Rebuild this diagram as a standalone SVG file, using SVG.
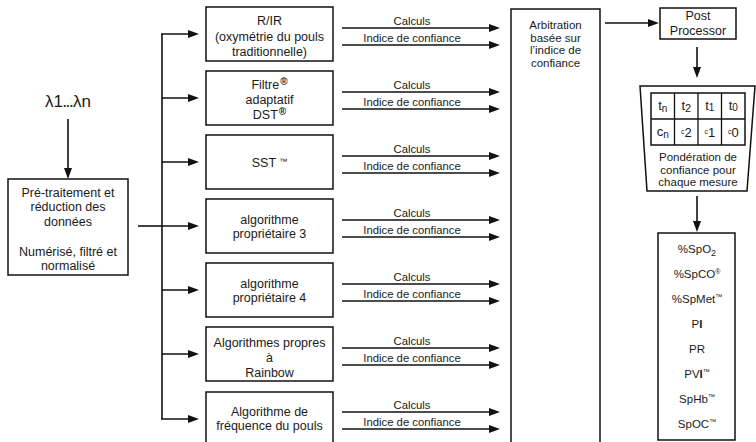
<svg xmlns="http://www.w3.org/2000/svg" width="756" height="442" viewBox="0 0 756 442">
<style>
text{font-family:"Liberation Sans",Arial,sans-serif;fill:#1a1a1a;text-anchor:middle}
.box{fill:#fff;stroke:#111;stroke-width:1.5}
.ln{fill:none;stroke:#111;stroke-width:1.6}
.arr{fill:none;stroke:#111;stroke-width:1.6;marker-end:url(#ah)}
.t12{font-size:12.5px}
.t11{font-size:11.3px}
.t115{font-size:11.5px}
</style>
<defs>
<marker id="ah" markerUnits="userSpaceOnUse" markerWidth="12" markerHeight="9" refX="8" refY="4" orient="auto">
<path d="M0,0 L11,4 L0,8 z" fill="#111"/>
</marker>
</defs>
<rect width="756" height="442" fill="#fff"/>

<g id="connectors">
<line class="arr" x1="68" y1="119" x2="68" y2="176"/>
<line class="ln" x1="138" y1="226" x2="162" y2="226"/>
<line class="ln" x1="162" y1="34" x2="162" y2="419"/>
<line class="arr" x1="161" y1="34" x2="196" y2="34"/>
<line class="arr" x1="162" y1="98" x2="196" y2="98"/>
<line class="arr" x1="162" y1="162" x2="196" y2="162"/>
<line class="arr" x1="162" y1="226" x2="196" y2="226"/>
<line class="arr" x1="162" y1="290" x2="196" y2="290"/>
<line class="arr" x1="162" y1="354" x2="196" y2="354"/>
<line class="arr" x1="161" y1="419" x2="196" y2="419"/>
<g>
<line class="arr" x1="342" y1="28" x2="497" y2="28"/><line class="arr" x1="342" y1="45" x2="497" y2="45"/>
<line class="arr" x1="342" y1="92" x2="497" y2="92"/><line class="arr" x1="342" y1="109" x2="497" y2="109"/>
<line class="arr" x1="342" y1="156" x2="497" y2="156"/><line class="arr" x1="342" y1="173" x2="497" y2="173"/>
<line class="arr" x1="342" y1="220" x2="497" y2="220"/><line class="arr" x1="342" y1="237" x2="497" y2="237"/>
<line class="arr" x1="342" y1="284" x2="497" y2="284"/><line class="arr" x1="342" y1="301" x2="497" y2="301"/>
<line class="arr" x1="342" y1="348" x2="497" y2="348"/><line class="arr" x1="342" y1="365" x2="497" y2="365"/>
<line class="arr" x1="342" y1="412" x2="497" y2="412"/><line class="arr" x1="342" y1="429" x2="497" y2="429"/>
</g>
<g class="t11">
<text x="412" y="25">Calculs</text><text x="412" y="42">Indice de confiance</text>
<text x="412" y="89">Calculs</text><text x="412" y="106">Indice de confiance</text>
<text x="412" y="153">Calculs</text><text x="412" y="170">Indice de confiance</text>
<text x="412" y="217">Calculs</text><text x="412" y="234">Indice de confiance</text>
<text x="412" y="281">Calculs</text><text x="412" y="298">Indice de confiance</text>
<text x="412" y="345">Calculs</text><text x="412" y="362">Indice de confiance</text>
<text x="412" y="409">Calculs</text><text x="412" y="426">Indice de confiance</text>
</g>
<line class="arr" x1="605" y1="23" x2="656" y2="23"/>
<line class="arr" x1="697" y1="47" x2="697" y2="75"/>
<line class="arr" x1="697" y1="196" x2="697" y2="229"/>
</g>

<g id="lambda"><text x="68" y="107" style="font-size:17px">λ1<tspan style="font-size:12px;font-weight:bold">...</tspan>λn</text></g>

<g id="pretraitement">
<rect class="box" x="8" y="179" width="120" height="96"/>
<text class="t12" x="68" y="196.5">Pré-traitement et</text>
<text class="t12" x="68" y="211">réduction des</text>
<text class="t12" x="68" y="225.5">données</text>
<text class="t12" x="68" y="255.5">Numérisé, filtré et</text>
<text class="t12" x="68" y="270">normalisé</text>
</g>

<g id="rir">
<rect class="box" x="206" y="7" width="127" height="54"/>
<text class="t12" x="269.5" y="25">R/IR</text>
<text class="t12" x="269.5" y="40.5">(oxymétrie du pouls</text>
<text class="t12" x="269.5" y="56">traditionnelle)</text>
</g>
<g id="filtre">
<rect class="box" x="206" y="71" width="127" height="54"/>
<text class="t12" x="269.5" y="89">Filtre<tspan dx="1" dy="-4" style="font-size:10px;font-weight:bold">®</tspan></text>
<text class="t12" x="269.5" y="104">adaptatif</text>
<text class="t12" x="269.5" y="119">DST<tspan dx="1" dy="-4" style="font-size:10px;font-weight:bold">®</tspan></text>
</g>
<g id="sst">
<rect class="box" x="206" y="135" width="127" height="54"/>
<text class="t12" x="269.5" y="166.5">SST <tspan dy="-3" style="font-size:8px">™</tspan></text>
</g>
<g id="algo3">
<rect class="box" x="206" y="199" width="127" height="54"/>
<text class="t12" x="269.5" y="223.5">algorithme</text>
<text class="t12" x="269.5" y="237.5">propriétaire 3</text>
</g>
<g id="algo4">
<rect class="box" x="206" y="263" width="127" height="54"/>
<text class="t12" x="269.5" y="288">algorithme</text>
<text class="t12" x="269.5" y="302">propriétaire 4</text>
</g>
<g id="rainbow">
<rect class="box" x="206" y="327" width="127" height="54"/>
<text class="t12" x="269.5" y="347">Algorithmes propres</text>
<text class="t12" x="269.5" y="362">à</text>
<text class="t12" x="269.5" y="377">Rainbow</text>
</g>
<g id="frequence">
<rect class="box" x="206" y="392" width="127" height="60"/>
<text class="t12" x="269.5" y="415.5">Algorithme de</text>
<text class="t12" x="269.5" y="429.5">fréquence du pouls</text>
</g>

<g id="arbitration">
<rect class="box" x="511" y="9" width="89" height="452"/>
<text class="t115" x="555.5" y="29">Arbitration</text>
<text class="t115" x="555.5" y="41.5">basée sur</text>
<text class="t115" x="555.5" y="54">l’indice de</text>
<text class="t115" x="555.5" y="66.5">confiance</text>
</g>

<g id="postprocessor">
<rect class="box" x="660" y="8" width="76" height="31"/>
<text x="698" y="20" style="font-size:12.5px">Post</text>
<text x="698" y="35" style="font-size:12.5px">Processor</text>
</g>

<g id="ponderation">
<path class="box" d="M640,86 L755,86 L747,191 L647,191 z"/>
<rect class="box" x="651" y="93" width="94" height="52"/>
<line class="ln" x1="651" y1="119" x2="745" y2="119" style="stroke-width:1.3"/>
<line class="ln" x1="674.5" y1="93" x2="674.5" y2="145" style="stroke-width:1.3"/>
<line class="ln" x1="698" y1="93" x2="698" y2="145" style="stroke-width:1.3"/>
<line class="ln" x1="721.5" y1="93" x2="721.5" y2="145" style="stroke-width:1.3"/>
<g style="font-size:13px">
<text x="662.75" y="110">t<tspan dy="2" style="font-size:10px">n</tspan></text>
<text x="686.25" y="110">t<tspan dy="2" style="font-size:11px">2</tspan></text>
<text x="709.75" y="110">t<tspan dy="1" style="font-size:10px">1</tspan></text>
<text x="733.25" y="110">t<tspan dy="1" style="font-size:10px">0</tspan></text>
<text x="662.75" y="136">c<tspan dy="2" style="font-size:10px">n</tspan></text>
<text x="686.25" y="137"><tspan dy="-3" style="font-size:7px">c</tspan><tspan dy="3">2</tspan></text>
<text x="709.75" y="137"><tspan dy="-3" style="font-size:7px">c</tspan><tspan dy="3">1</tspan></text>
<text x="733.25" y="137"><tspan dy="-3" style="font-size:7px">c</tspan><tspan dy="3">0</tspan></text>
</g>
<text x="698" y="161" style="font-size:11.5px">Pondération de</text>
<text x="698" y="173.5" style="font-size:11.5px">confiance pour</text>
<text x="698" y="186" style="font-size:11.5px">chaque mesure</text>
</g>

<g id="mesures">
<rect class="box" x="658" y="233" width="77" height="207"/>
<g class="t115">
<text x="697" y="252.5">%SpO<tspan dy="3" style="font-size:9px">2</tspan></text>
<text x="697" y="277.5">%SpCO<tspan dy="-4" style="font-size:7px">®</tspan></text>
<text x="697" y="302.5">%SpMet<tspan dy="-4" style="font-size:7px">™</tspan></text>
<text x="697" y="327.5">P<tspan style="font-weight:bold">I</tspan></text>
<text x="697" y="352.5">PR</text>
<text x="697" y="377.5">PV<tspan style="font-weight:bold">I</tspan><tspan dy="-4" style="font-size:7px">™</tspan></text>
<text x="697" y="402.5">SpHb<tspan dy="-4" style="font-size:7px">™</tspan></text>
<text x="697" y="427.5">SpOC<tspan dy="-4" style="font-size:7px">™</tspan></text>
</g>
</g>
</svg>
